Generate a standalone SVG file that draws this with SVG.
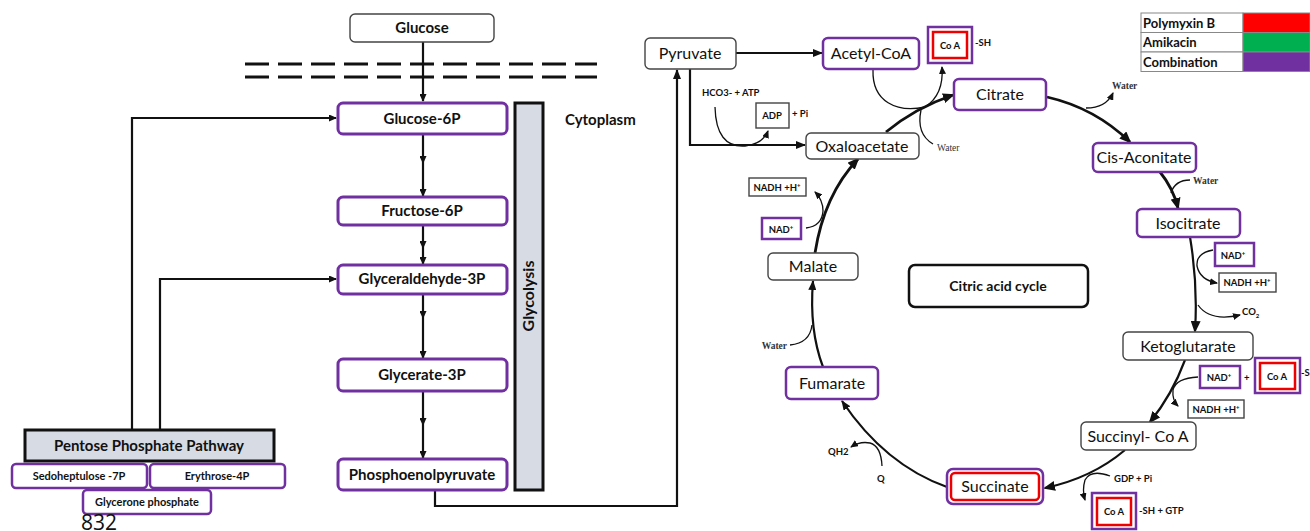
<svg xmlns="http://www.w3.org/2000/svg" width="1310" height="531" viewBox="0 0 1310 531">
<defs>
<style>
text{font-family:Lato,"Open Sans","Liberation Sans",sans-serif;fill:#111}
.pb{fill:#fff;stroke:#7030a0;stroke-width:3}
.pb2{fill:#fff;stroke:#7030a0;stroke-width:2.5}
.gb{fill:#fff;stroke:#444;stroke-width:1.4}
.rb{fill:#fff;stroke:#e00;stroke-width:2.5}
.bar{fill:#d6dbe4;stroke:#111;stroke-width:3}
.b15{font-size:15px;font-weight:bold}
.b11{font-size:11px;font-weight:bold}
.b9{font-size:9.5px;font-weight:bold}
.r16{font-size:16px}
.w{font-family:"Liberation Serif",serif;font-size:9.5px;font-weight:bold;fill:#333}
.c{text-anchor:middle}
.thick{fill:none;stroke:#111;stroke-width:2.8}
.med{fill:none;stroke:#111;stroke-width:2.2}
.thin{fill:none;stroke:#111;stroke-width:1.3}
</style>
<marker id="ah" markerUnits="userSpaceOnUse" markerWidth="12" markerHeight="10" refX="10" refY="5" orient="auto"><path d="M0,0 L12,5 L0,10 z" fill="#111"/></marker>
<marker id="am" markerUnits="userSpaceOnUse" markerWidth="10" markerHeight="8" refX="9" refY="4" orient="auto"><path d="M0,0 L10,4 L0,8 z" fill="#111"/></marker>
<marker id="as" markerUnits="userSpaceOnUse" markerWidth="8" markerHeight="7" refX="7" refY="3.5" orient="auto"><path d="M0,0 L8,3.5 L0,7 z" fill="#111"/></marker>
</defs>
<rect width="1310" height="531" fill="#fff"/>

<g id="membrane">
<line x1="245" y1="64" x2="597" y2="64" stroke="#111" stroke-width="3" stroke-dasharray="24 9"/>
<line x1="245" y1="77" x2="597" y2="77" stroke="#111" stroke-width="3" stroke-dasharray="24 9"/>
</g>

<g id="connectors">
<path class="med" d="M423,42 V101" marker-end="url(#as)"/>
<path class="med" d="M423,135 V163 V196" marker-mid="url(#as)" marker-end="url(#as)"/>
<path class="med" d="M423,226 V248 V264" marker-mid="url(#as)" marker-end="url(#as)"/>
<path class="med" d="M423,295 V318 V358" marker-mid="url(#as)" marker-end="url(#as)"/>
<path class="med" d="M423,392 V425 V458" marker-mid="url(#as)" marker-end="url(#as)"/>
<path class="med" d="M132,429 V118 H336" marker-end="url(#as)"/>
<path class="med" d="M160,429 V279 H336" marker-end="url(#as)"/>
<path class="med" d="M435,491 V506 H677 V70" marker-end="url(#am)"/>
<path class="med" d="M736,53 H822" marker-end="url(#am)"/>
<path class="med" d="M690,69 V145 H805" marker-end="url(#am)"/>
<path class="thin" d="M715,107 Q716,148 745,146 Q763,144 768,131" marker-end="url(#as)"/>
<path class="thick" d="M886,132 Q915,108 953,95" marker-end="url(#ah)"/>
<path class="thin" d="M873,70 C872,102 897,113 925,107"/>
<path class="thin" d="M925,107 Q944,95 942,67" marker-end="url(#as)"/>
<path class="thin" d="M921,110 Q916,134 933,144"/>
<path class="thick" d="M1047,97 Q1095,108 1130,142" marker-end="url(#ah)"/>
<path class="thin" d="M1086,108 Q1106,108 1113,93" marker-end="url(#as)"/>
<path class="thick" d="M1160,172 Q1173,188 1178,208" marker-end="url(#ah)"/>
<path class="thin" d="M1190,180 Q1175,180 1171,193"/>
<path class="med" d="M1190,237 Q1198,285 1195,331" marker-end="url(#ah)"/>
<path class="thin" d="M1213,250 Q1196,253 1197,266 Q1200,280 1217,283" marker-end="url(#as)"/>
<path class="thin" d="M1198,305 Q1210,322 1240,315" marker-end="url(#as)"/>
<path class="med" d="M1185,360 Q1172,395 1150,422" marker-end="url(#ah)"/>
<path class="thin" d="M1198,377 Q1176,378 1173,390 Q1172,400 1178,406" marker-end="url(#as)"/>
<path class="med" d="M1125,450 Q1092,478 1045,488" marker-end="url(#ah)"/>
<path class="thin" d="M1110,476 Q1091,469 1085,480 Q1082,490 1085,500" marker-end="url(#as)"/>
<path class="med" d="M947,487 Q885,465 842,401" marker-end="url(#am)"/>
<path class="thin" d="M882,466 Q881,446 870,443 Q860,441 851,447" marker-end="url(#as)"/>
<path class="med" d="M823,367 Q809,330 813,281" marker-end="url(#am)"/>
<path class="thin" d="M790,345 Q810,343 812,325"/>
<path class="thick" d="M815,253 Q824,195 858,159" marker-end="url(#ah)"/>
<path class="thin" d="M806,228 Q822,226 823,211 Q823,200 815,192" marker-end="url(#as)"/>
</g>

<g id="glucose"><rect x="350" y="14" width="144" height="28" rx="5" class="gb"/><text x="422" y="33" class="b15 c">Glucose</text></g>
<g id="glucose6p"><rect x="338" y="103" width="169" height="31" rx="5" class="pb"/><text x="422" y="124" class="b15 c">Glucose-6P</text></g>
<g id="fructose6p"><rect x="338" y="197" width="169" height="28" rx="5" class="pb"/><text x="422" y="216" class="b15 c">Fructose-6P</text></g>
<g id="glyceraldehyde3p"><rect x="338" y="265" width="169" height="29" rx="5" class="pb"/><text x="422" y="284" class="b15 c">Glyceraldehyde-3P</text></g>
<g id="glycerate3p"><rect x="338" y="359" width="169" height="32" rx="5" class="pb"/><text x="422" y="380" class="b15 c">Glycerate-3P</text></g>
<g id="pep"><rect x="338" y="459" width="169" height="31" rx="5" class="pb"/><text x="422" y="480" class="b15 c">Phosphoenolpyruvate</text></g>
<g id="glycolysis"><rect x="515" y="103" width="28" height="387" class="bar"/><text x="529" y="296" class="c" font-size="16" font-weight="bold" transform="rotate(-90 529 296)" dy="5">Glycolysis</text></g>
<g id="cytoplasm"><text x="565" y="125" class="b15">Cytoplasm</text></g>

<g id="ppp"><rect x="25" y="430" width="249" height="31" class="bar"/><text x="149" y="451" class="b15 c">Pentose Phosphate Pathway</text></g>
<g id="sedoheptulose"><rect x="12" y="464" width="135" height="24" rx="4" class="pb2"/><text x="79" y="480" class="b11 c">Sedoheptulose -7P</text></g>
<g id="erythrose"><rect x="150" y="464" width="135" height="24" rx="4" class="pb2"/><text x="217" y="480" class="b11 c">Erythrose-4P</text></g>
<g id="glycerone"><rect x="83" y="490" width="128" height="24" rx="4" class="pb2"/><text x="147" y="506" class="b11 c">Glycerone phosphate</text></g>
<g id="pagenum"><text x="81" y="530" font-size="21" style="font-family:'Open Sans','Liberation Sans',sans-serif">832</text></g>

<g id="pyruvate"><rect x="645" y="38" width="91" height="31" rx="5" class="gb"/><text x="690" y="59" class="r16 c">Pyruvate</text></g>
<g id="acetylcoa"><rect x="823" y="38" width="96" height="31" rx="5" class="pb2"/><text x="871" y="59" class="r16 c">Acetyl-CoA</text></g>
<g id="coa1"><rect x="928" y="27" width="44" height="36" class="pb2"/><rect x="933" y="32" width="34" height="26" class="rb"/><text x="950" y="49" class="b9 c">Co A</text><text x="975" y="46" class="b9">-SH</text></g>
<g id="hco3"><text x="702" y="96" class="b9">HCO3-  +  ATP</text></g>
<g id="adp"><rect x="756" y="103" width="33" height="25" class="gb"/><text x="772" y="119" class="b9 c">ADP</text><text x="792" y="117" class="b9">+ Pi</text></g>
<g id="oxaloacetate"><rect x="806" y="133" width="113" height="26" rx="5" class="gb"/><text x="862" y="152" class="r16 c">Oxaloacetate</text></g>
<g id="water1"><text x="937" y="151" class="w" style="font-weight:normal">Water</text></g>
<g id="citrate"><rect x="954" y="79" width="92" height="31" rx="5" class="pb2"/><text x="1000" y="100" class="r16 c">Citrate</text></g>
<g id="water2"><text x="1112" y="89" class="w">Water</text></g>
<g id="cisaconitate"><rect x="1093" y="143" width="103" height="29" rx="5" class="pb2"/><text x="1144" y="163" class="r16 c">Cis-Aconitate</text></g>
<g id="water3"><text x="1193" y="184" class="w">Water</text></g>
<g id="isocitrate"><rect x="1137" y="209" width="103" height="28" rx="5" class="pb2"/><text x="1188" y="229" class="r16 c">Isocitrate</text></g>
<g id="nad1"><rect x="1215" y="243" width="39" height="23" class="pb2"/><text x="1233" y="259" class="b9 c">NAD<tspan font-size="6" dy="-4">+</tspan></text></g>
<g id="nadh1"><rect x="1219" y="273" width="57" height="19" class="gb"/><text x="1247" y="286" class="b9 c">NADH +H<tspan font-size="6" dy="-4">+</tspan></text></g>
<g id="co2"><text x="1242" y="315" class="b9">CO<tspan font-size="6" dy="3">2</tspan></text></g>
<g id="ketoglutarate"><rect x="1123" y="332" width="130" height="28" rx="5" class="gb"/><text x="1188" y="352" class="r16 c">Ketoglutarate</text></g>
<g id="nad2"><rect x="1200" y="366" width="40" height="22" class="pb2"/><text x="1219" y="381" class="b9 c">NAD<tspan font-size="6" dy="-4">+</tspan></text><text x="1244" y="381" class="b9">+</text></g>
<g id="coa2"><rect x="1255" y="358" width="45" height="35" class="pb2"/><rect x="1260" y="363" width="35" height="26" class="rb"/><text x="1277" y="380" class="b9 c">Co A</text><text x="1301" y="376" class="b9">-SH</text></g>
<g id="nadh2"><rect x="1188" y="400" width="56" height="18" class="gb"/><text x="1216" y="413" class="b9 c">NADH +H<tspan font-size="6" dy="-4">+</tspan></text></g>
<g id="succinylcoa"><rect x="1081" y="422" width="115" height="28" rx="5" class="gb"/><text x="1138" y="442" class="r16 c">Succinyl- Co A</text></g>
<g id="gdp"><text x="1114" y="482" class="b9">GDP  + Pi</text></g>
<g id="coa3"><rect x="1092" y="493" width="44" height="36" class="pb2"/><rect x="1097" y="498" width="34" height="27" class="rb"/><text x="1114" y="515" class="b9 c">Co A</text><text x="1139" y="514" class="b9">-SH  +  GTP</text></g>
<g id="succinate"><rect x="947" y="469" width="96" height="35" rx="6" class="pb2"/><rect x="951" y="473" width="88" height="27" rx="4" class="rb"/><text x="995" y="492" class="r16 c">Succinate</text></g>
<g id="qh2"><text x="828" y="455" class="b9">QH2</text><text x="877" y="482" class="b9">Q</text></g>
<g id="fumarate"><rect x="786" y="367" width="92" height="32" rx="5" class="pb2"/><text x="832" y="389" class="r16 c">Fumarate</text></g>
<g id="water4"><text x="787" y="349" class="w" text-anchor="end">Water</text></g>
<g id="malate"><rect x="768" y="253" width="90" height="27" rx="5" class="gb"/><text x="813" y="272" class="r16 c">Malate</text></g>
<g id="nad3"><rect x="762" y="218" width="39" height="21" class="pb2"/><text x="781" y="233" class="b9 c">NAD<tspan font-size="6" dy="-4">+</tspan></text></g>
<g id="nadh3"><rect x="749" y="178" width="57" height="18" class="gb"/><text x="777" y="191" class="b9 c">NADH +H<tspan font-size="6" dy="-4">+</tspan></text></g>
<g id="tca"><rect x="909" y="265" width="179" height="42" rx="6" fill="#fff" stroke="#111" stroke-width="2.5"/><text x="998" y="291" class="c" font-size="14" font-weight="bold">Citric acid cycle</text></g>

<g id="legend">
<rect x="1141" y="13" width="102" height="19.5" fill="#fff" stroke="#888"/>
<rect x="1243" y="13" width="67" height="19.5" fill="#ff0000" stroke="#888"/>
<rect x="1141" y="32.5" width="102" height="19.5" fill="#fff" stroke="#888"/>
<rect x="1243" y="32.5" width="67" height="19.5" fill="#00b050" stroke="#888"/>
<rect x="1141" y="52" width="102" height="19.5" fill="#fff" stroke="#888"/>
<rect x="1243" y="52" width="67" height="19.5" fill="#7030a0" stroke="#888"/>
<text x="1143" y="28" font-size="13" font-weight="bold">Polymyxin B</text>
<text x="1143" y="47" font-size="13" font-weight="bold">Amikacin</text>
<text x="1143" y="67" font-size="13" font-weight="bold">Combination</text>
</g>
</svg>
